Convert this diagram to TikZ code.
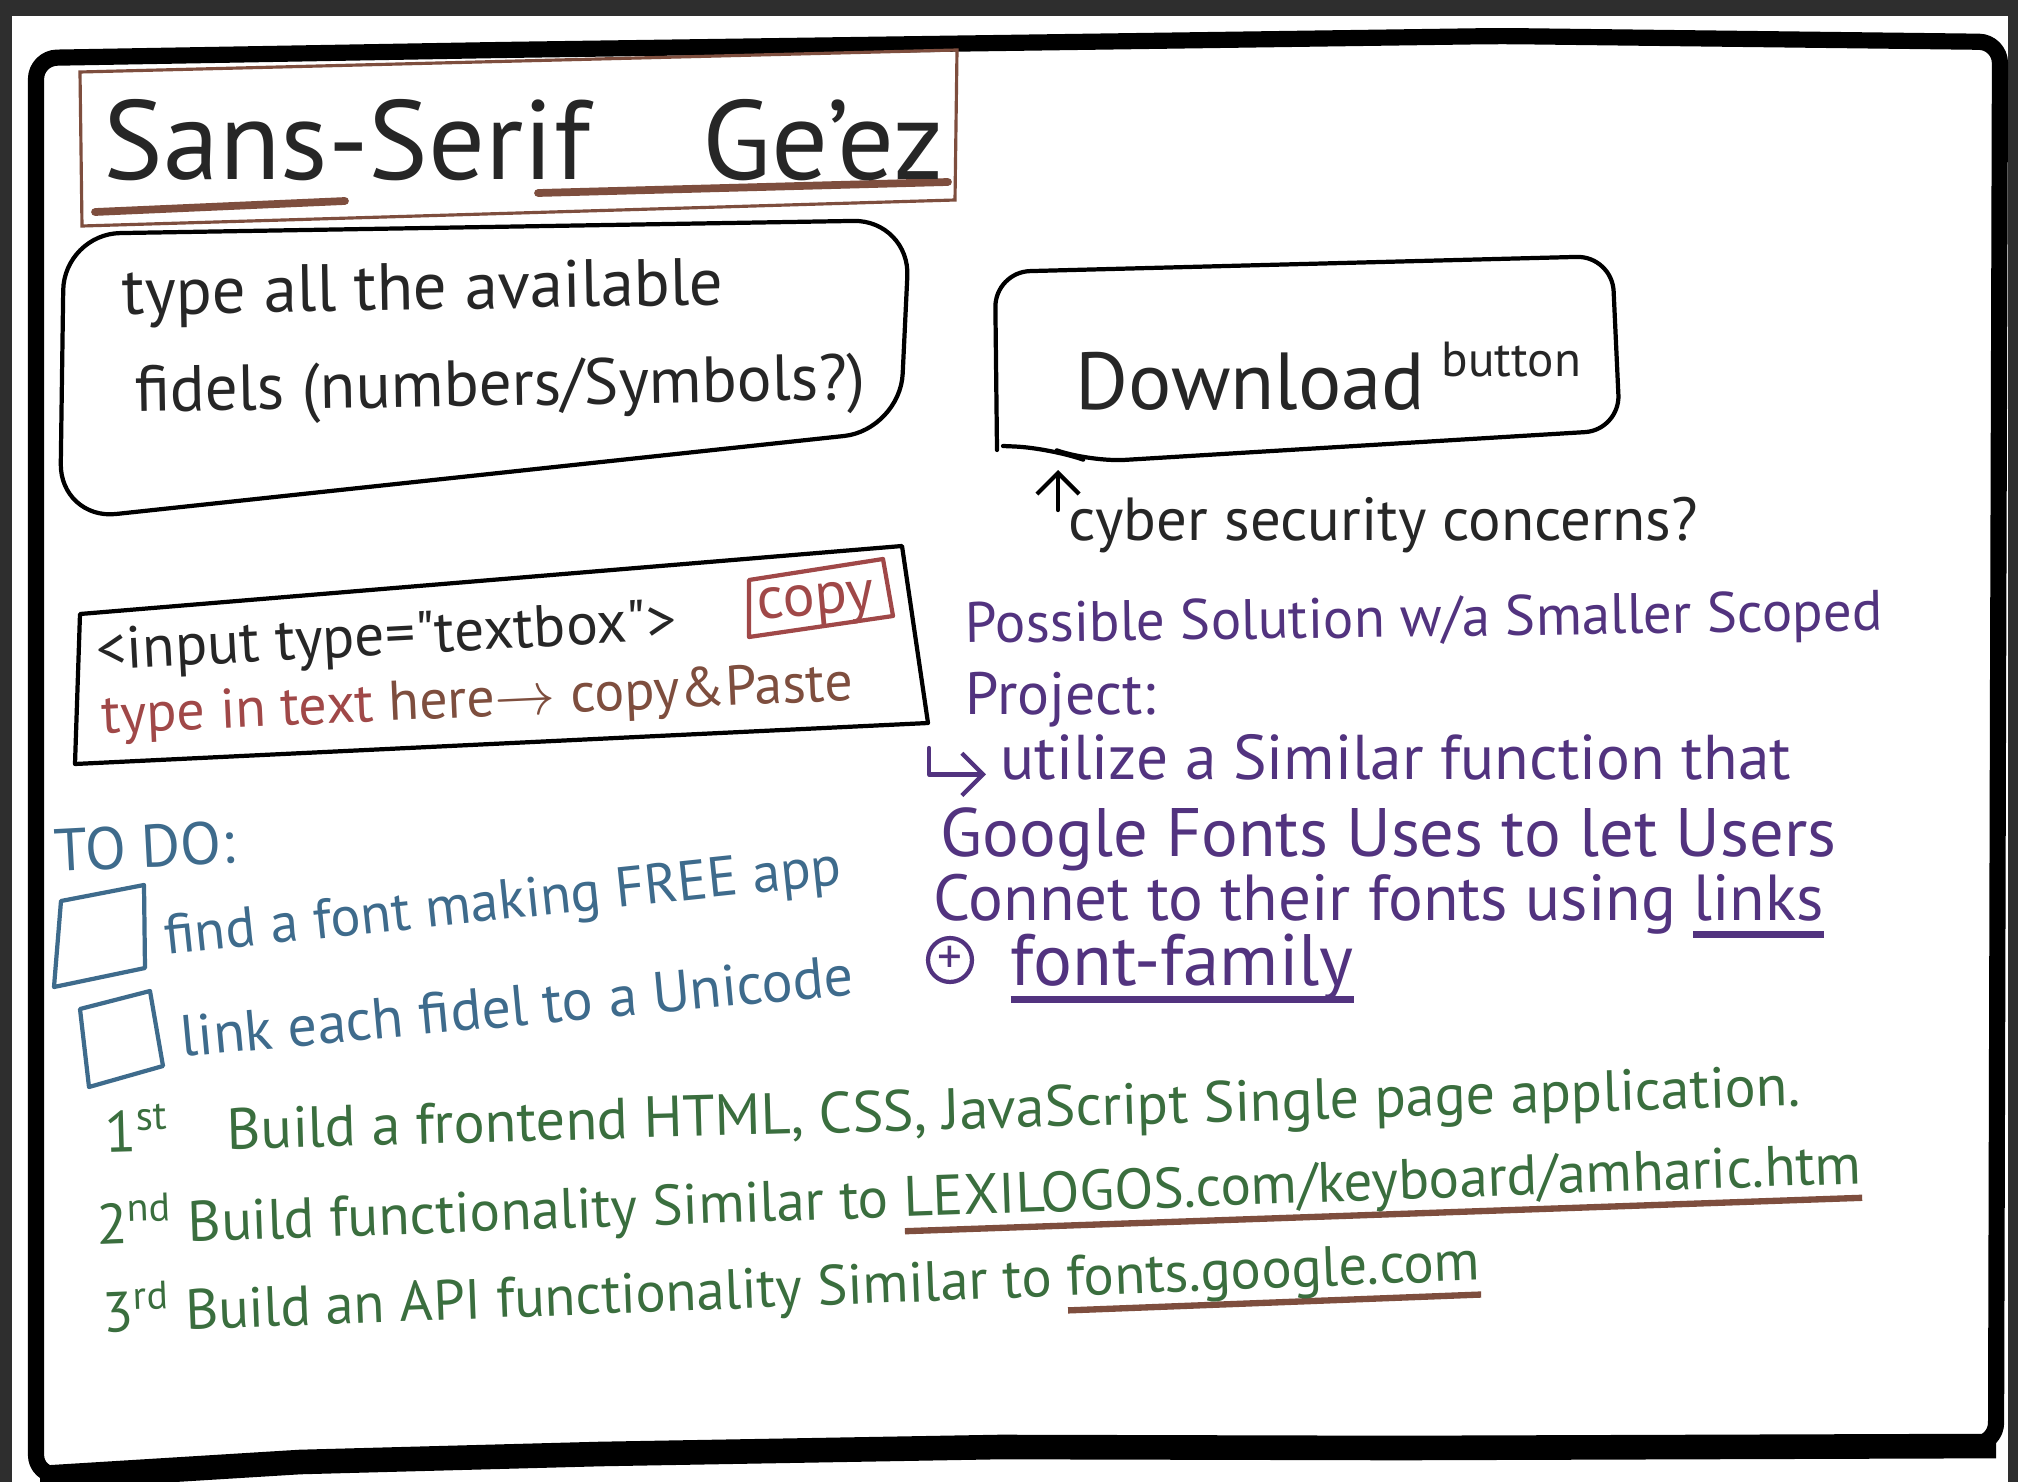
\documentclass[tikz,border=0pt]{standalone}
\usepackage{fontspec}
\setmainfont{PT Sans}
\usetikzlibrary{arrows.meta}

\definecolor{inkdark}{HTML}{262626}
\definecolor{inkbrown}{HTML}{7E4E3E}
\definecolor{inkred}{HTML}{A04848}
\definecolor{inkpurple}{HTML}{52337F}
\definecolor{inkblue}{HTML}{3E6B8C}
\definecolor{inkgreen}{HTML}{3A6E3E}
\definecolor{margin}{HTML}{2E2E2E}

\newsavebox{\ulbox}
\newcommand{\strokeunder}[2]{\sbox{\ulbox}{#2}\rlap{\textcolor{#1}{\rule[-5pt]{\wd\ulbox}{1.8pt}}}\usebox{\ulbox}}

\begin{document}
\begin{tikzpicture}[x=0.01cm, y=-0.01cm,
  every node/.style={inner sep=0pt, anchor=base west, text=inkdark},
  pen/.style={line width=1.2pt, line join=round, line cap=round},
  frame/.style={line width=4.6pt, line join=round, line cap=round, rounded corners=6},
  hand/.style={font=\fontsize{#1}{#1}\selectfont}]
  \useasboundingbox (0,0) rectangle (2018,1482);
  \fill[margin] (0,0) rectangle (2018,1482);
  \fill[white] (12,16) rectangle (2008,1482);
  \draw[frame] (36,58) -- (500,50) -- (1000,43) -- (1500,36) -- (2000,42) -- (1998,700)
    -- (1996,1444) -- (1400,1446) -- (1000,1445) -- (600,1452) -- (300,1460) -- (120,1470)
    -- (36,1476) -- cycle;
  \draw[line width=7pt] (1996,1446) -- (1400,1448) -- (1000,1447) -- (600,1454) -- (300,1462) -- (40,1478);

  % title
  \draw[inkbrown, line width=0.9pt] (80,72) -- (957,50) -- (955,200) -- (82,226) -- cycle;
  \draw[inkbrown, line width=2.2pt, line cap=round] (95,212) -- (345,201);
  \draw[inkbrown, line width=2.2pt, line cap=round] (538,193) -- (948,182);
  \node[hand=32] (title) at (103,180) {Sans-Serif\quad Ge'ez};

  % fidels box
  \draw[pen, rounded corners=16] (64,234) -- (910,220) -- (900,430) -- (60,520) -- cycle;
  \node[hand=19, rotate=1] (fidelsA) at (122,315) {type all the available};
  \node[hand=18.5, rotate=1] (fidelsB) at (135,412) {fidels (numbers/Symbols?)};

  % download
  \draw[pen, rounded corners=10] (997,450) -- (995,272) -- (1612,256) -- (1620,430)
    -- (1090,462) -- (1050,448) -- (1003,446);
  \node[hand=23] (dl) at (1075,409) {Download};
  \node[hand=14] (btn) at (1441,376) {button};
  \coordinate (dltip) at (1058,470);
  \node[hand=17.3] (cyber) at (1068,540) {cyber security concerns?};
  \draw[pen, -{Straight Barb[length=6pt]}] (cyber.base west) ++(-10,-30) -- (dltip);

  % input box
  \draw[pen] (80,614) -- (902,546) -- (928,723) -- (75,764) -- cycle;
  \node[hand=16.9, rotate=3] (input) at (97,670) {<input type=\textquotedbl textbox\textquotedbl>};
  \draw[pen, inkred] (749,580) -- (883,559) -- (893,616) -- (749,637) -- cycle;
  \node[hand=17, rotate=5, text=inkred] (copy) at (758,620) {copy};
  \node[hand=15.9, rotate=2.6] (typein) at (102,734)
    {\textcolor{inkred}{type in text} \textcolor{inkbrown}{here$\to$ copy\&Paste}};

  % to do
  \node[hand=17, rotate=3, text=inkblue] (todo) at (55,872) {TO DO:};
  \draw[pen, inkblue] (61,901) -- (144,885) -- (145,968) -- (54,987) -- cycle;
  \node[hand=16, rotate=6, text=inkblue] (find) at (166,955) {find a font making FREE app};
  \draw[pen, inkblue] (80,1009) -- (150,991) -- (163,1066) -- (89,1087) -- cycle;
  \node[hand=16.5, rotate=5.3, text=inkblue] (link) at (182,1057) {link each fidel to a Unicode};

  % smaller scope
  \node[hand=16.2, rotate=0.8, text=inkpurple] (possible) at (965,643) {Possible Solution w/a Smaller Scoped};
  \node[hand=17, text=inkpurple] (project) at (965,714) {Project:};
  \coordinate (hook) at (929,748);
  \node[hand=18, text=inkpurple] (utilize) at (1000,779) {utilize a Similar function that};
  \draw[pen, inkpurple, -{Straight Barb[length=6pt]}, shorten >=4pt] (hook) |- ([yshift=-5pt]utilize.west);
  \node[hand=19.5, text=inkpurple] (google) at (940,856) {Google Fonts Uses to let Users};
  \node[hand=18.5, text=inkpurple] (connect) at (933,920) {Connet to their fonts using \strokeunder{inkpurple}{links}};
  \node[circle, draw=inkpurple, pen, minimum size=12.5pt, anchor=center, text=inkpurple,
    font=\fontsize{14}{14}\selectfont] (plus) at (950,960) {+};
  \node[hand=20.7, text=inkpurple] (family) at (1010,985) {\strokeunder{inkpurple}{font-family}};

  % steps
  \node[hand=16.5, rotate=1.6, text=inkgreen] (first) at (105,1153)
    {1\textsuperscript{st}\quad Build a frontend HTML, CSS, JavaScript Single page application.};
  \node[hand=16.2, rotate=2, text=inkgreen] (second) at (97,1245)
    {2\textsuperscript{nd} Build functionality Similar to \strokeunder{inkbrown}{LEXILOGOS.com/keyboard/amharic.htm}};
  \node[hand=16.1, rotate=2.2, text=inkgreen] (third) at (103,1333)
    {3\textsuperscript{rd} Build an API functionality Similar to \strokeunder{inkbrown}{fonts.google.com}};
\end{tikzpicture}
\end{document}
